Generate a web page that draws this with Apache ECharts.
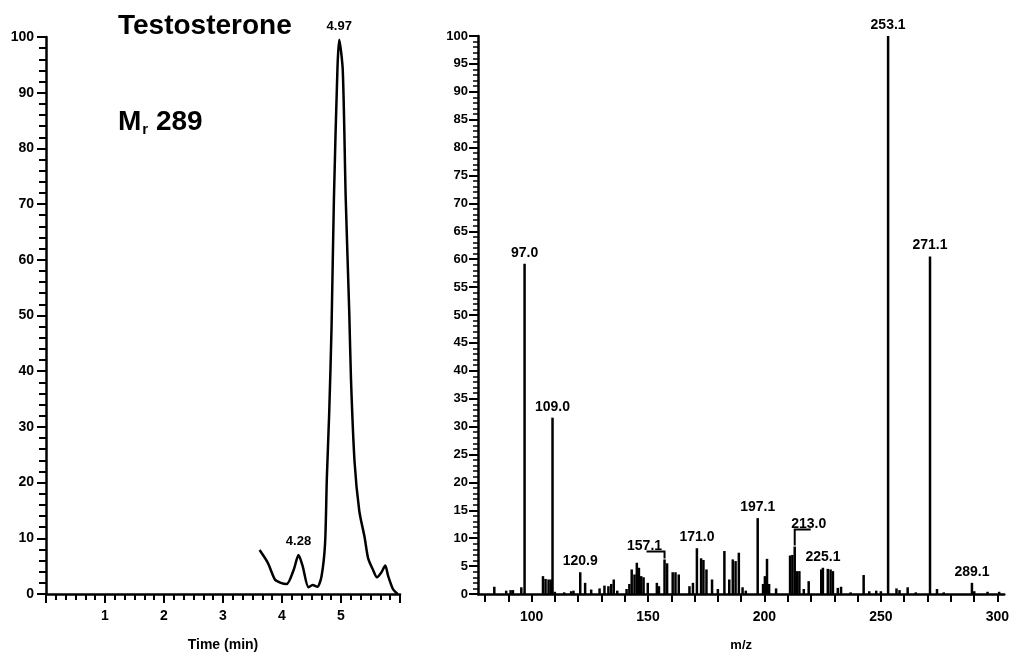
<!DOCTYPE html>
<html>
<head>
<meta charset="utf-8">
<script src="https://cdn.jsdelivr.net/npm/echarts@6/dist/echarts.min.js"></script>
<style>
  html, body { margin: 0; padding: 0; background: #fff; }
  #chart { width: 1012px; height: 657px; }
</style>
</head>
<body>
<div id="chart"></div>
<script>
// chromatogram (left)
const times = [3.62, 3.76, 3.88, 3.98, 4.08, 4.20, 4.28, 4.35, 4.45, 4.52, 4.60, 4.67, 4.73, 4.76, 4.80, 4.84,
  4.88, 4.94, 4.97, 5.03, 5.08, 5.14, 5.17, 5.23, 5.31, 5.40, 5.46, 5.54, 5.61, 5.68, 5.75, 5.80, 5.88, 5.96]
const intensities = [7.9, 5.6, 2.6, 2.0, 1.8, 4.4, 7.0, 5.0, 1.2, 1.6, 1.3, 3.2, 9.1, 20.8, 32.5, 48,
  71, 94.4, 99.5, 94, 71, 50.6, 38.3, 23.7, 14.9, 10.2, 6.4, 4.4, 3.0, 3.8, 5.1, 3.2, 0.9, 0]
const rtPeaks = [4.28, 4.97]
const timeLabels = [1, 2, 3, 4, 5]

// mass spectrum (right)
const mzValues = [84.0, 89.1, 91.0, 92.0, 95.6, 97.0, 104.9, 106.0, 107.3, 108.3, 109.0, 110.0, 114.0, 117.0, 118.0,
  120.9, 123.0, 125.6, 129.2, 131.3, 133.0, 134.2, 135.3, 136.8, 140.8, 142.0, 143.0, 144.2, 145.2, 146.1, 147.1,
  148.1, 149.9, 153.8, 154.7, 157.1, 158.2, 160.6, 161.8, 163.2, 167.8, 169.3, 171.0, 172.8, 173.8, 175.1, 177.5,
  180.0, 182.8, 184.9, 186.4, 187.6, 189.0, 190.6, 192.0, 197.1, 199.4, 200.2, 201.1, 202.0, 205.0, 211.0, 212.0,
  213.0, 213.9, 215.0, 216.9, 219.0, 224.4, 225.1, 227.2, 228.4, 229.4, 231.5, 232.9, 237.0, 242.6, 245.0, 248.0,
  250.0, 253.1, 256.7, 258.0, 261.5, 265.0, 271.1, 274.1, 277.0, 289.1, 290.1, 295.8, 300.8]
const abundances = [1.3, 0.6, 0.7, 0.7, 1.2, 59.2, 3.2, 2.7, 2.6, 2.6, 31.6, 0.4, 0.3, 0.5, 0.6,
  3.9, 2.0, 0.8, 1.0, 1.5, 1.4, 1.8, 2.6, 0.6, 0.9, 1.8, 4.4, 3.5, 5.6, 4.7, 3.2,
  3.0, 2.0, 2.0, 1.4, 6.2, 5.5, 3.9, 3.9, 3.5, 1.4, 2.0, 8.2, 6.4, 6.1, 4.4, 2.6,
  0.9, 7.7, 2.6, 6.2, 5.9, 7.4, 1.2, 0.6, 13.6, 1.8, 3.2, 6.3, 1.8, 1.0, 6.9, 7.0,
  8.5, 4.1, 4.1, 0.9, 2.3, 4.4, 4.7, 4.5, 4.4, 4.1, 1.1, 1.3, 0.3, 3.4, 0.5, 0.6,
  0.5, 100, 1.0, 0.7, 1.2, 0.3, 60.5, 0.9, 0.3, 2.0, 0.5, 0.4, 0.4]
const mzPeaks = [97.0, 109.0, 120.9, 157.1, 171.0, 197.1, 213.0, 225.1, 253.1, 271.1, 289.1]
const mzLabels = [100, 150, 200, 250, 300]
const mzTicks = [80, 90, 100, 110, 120, 130, 140, 150, 160, 170, 180, 190, 200, 210, 220, 230, 240, 250, 260, 270, 280, 290, 300]

const FONT = '"Liberation Sans", Arial, sans-serif'
const INK = '#000'
// labels set off their bar with an elbow leader: rise above bar top, run sideways, label centre x
const LEADER = {
  '157.1': { rise: 8, run: -18, dx: -20 },
  '213.0': { rise: 17, run: 16, dx: 14 }
}
const leaderOf = m => LEADER[m.toFixed(1)]

const axisLine = { show: true, lineStyle: { color: INK, width: 2.5 } }
const tick = (len) => ({ show: true, length: len, lineStyle: { color: INK, width: 2 } })
const minor = (n, len, w) => ({ show: true, splitNumber: n, length: len, lineStyle: { color: INK, width: w } })
const lbl = (size, margin) => ({ color: INK, fontFamily: FONT, fontWeight: 'bold', fontSize: size, margin })

const chart = echarts.init(document.getElementById('chart'))

const peakPoints = rtPeaks.map(t => {
  const i = times.indexOf(t)
  return [times[i], intensities[i]]
})
const leaderPeaks = mzPeaks.filter(m => leaderOf(m)).map(m => [m, abundances[mzValues.indexOf(m)]])

chart.setOption({
  animation: false,
  backgroundColor: '#fff',
  title: [
    {
      text: 'Testosterone', left: 118, top: 12, padding: 0,
      textStyle: { color: INK, fontFamily: FONT, fontWeight: 'bold', fontSize: 28 }
    },
    {
      text: '{a|M}{b|r}{a| 289}', left: 118, top: 107, padding: 0,
      textStyle: {
        rich: {
          a: { color: INK, fontFamily: FONT, fontWeight: 'bold', fontSize: 28, lineHeight: 30 },
          b: { color: INK, fontFamily: FONT, fontWeight: 'bold', fontSize: 15, lineHeight: 30, verticalAlign: 'bottom', padding: [14, 0, 0, 1] }
        }
      }
    }
  ],
  grid: [
    { left: 46, width: 354, top: 37, bottom: 52 },
    { left: 478, right: 7, top: 36, bottom: 52 }
  ],
  xAxis: [
    {
      type: 'value', gridIndex: 0, min: 0, max: 6, interval: 1,
      name: 'Time (min)', nameLocation: 'middle', nameGap: 44,
      nameTextStyle: { color: INK, fontFamily: FONT, fontWeight: 'bold', fontSize: 14 },
      axisLine, axisTick: tick(9), minorTick: minor(6, 6, 2),
      axisLabel: { ...lbl(14, 15), customValues: timeLabels },
      splitLine: { show: false }
    },
    {
      type: 'value', gridIndex: 1, min: 77, max: 303,
      name: 'm/z', nameLocation: 'middle', nameGap: 45,
      nameTextStyle: { color: INK, fontFamily: FONT, fontWeight: 'bold', fontSize: 13 },
      axisLine, axisTick: { ...tick(8), customValues: mzTicks },
      axisLabel: { ...lbl(14, 16), customValues: mzLabels },
      splitLine: { show: false }
    }
  ],
  yAxis: [
    {
      type: 'value', gridIndex: 0, min: 0, max: 100, interval: 10,
      axisLine, axisTick: tick(9), minorTick: minor(5, 7, 2),
      axisLabel: lbl(14, 12), splitLine: { show: false }
    },
    {
      type: 'value', gridIndex: 1, min: 0, max: 100, interval: 5,
      axisLine, axisTick: tick(9), minorTick: minor(5, 5, 1.5),
      axisLabel: lbl(13, 10), splitLine: { show: false }
    }
  ],
  series: [
    {
      type: 'line', xAxisIndex: 0, yAxisIndex: 0,
      data: times.map((t, i) => [t, intensities[i]]),
      smooth: 0.25, showSymbol: false,
      lineStyle: { color: INK, width: 2.5 }
    },
    {
      type: 'scatter', xAxisIndex: 0, yAxisIndex: 0,
      data: peakPoints, symbolSize: 0,
      itemStyle: { color: INK, opacity: 1 },
      label: {
        show: true, position: 'top', distance: 7,
        color: INK, fontFamily: FONT, fontWeight: 'bold', fontSize: 13,
        formatter: p => p.value[0].toFixed(2)
      }
    },
    {
      type: 'bar', xAxisIndex: 1, yAxisIndex: 1,
      barWidth: 2.5,
      itemStyle: { color: INK },
      data: mzValues.map((m, i) => {
        const item = { value: [m, abundances[i]] }
        if (mzPeaks.includes(m) && !leaderOf(m)) item.label = { show: true }
        return item
      }),
      label: {
        show: false, position: 'top', distance: 4,
        color: INK, fontFamily: FONT, fontWeight: 'bold', fontSize: 14,
        formatter: p => p.value[0].toFixed(1)
      }
    },
    {
      type: 'custom', xAxisIndex: 1, yAxisIndex: 1,
      data: leaderPeaks, clip: false, silent: true,
      renderItem: (params, api) => {
        const m = api.value(0)
        const [bx, by] = api.coord([m, api.value(1)])
        const L = leaderOf(m)
        const ly = by - L.rise
        return {
          type: 'group',
          children: [
            {
              type: 'polyline',
              shape: { points: [[bx, by - 1], [bx, ly], [bx + L.run, ly]] },
              style: { stroke: INK, lineWidth: 2, fill: null }
            },
            {
              type: 'text',
              style: {
                text: m.toFixed(1), x: bx + L.dx, y: ly + 2,
                fill: INK, font: 'bold 14px ' + FONT,
                textAlign: 'center', textVerticalAlign: 'bottom'
              }
            }
          ]
        }
      }
    }
  ]
})
</script>
</body>
</html>
